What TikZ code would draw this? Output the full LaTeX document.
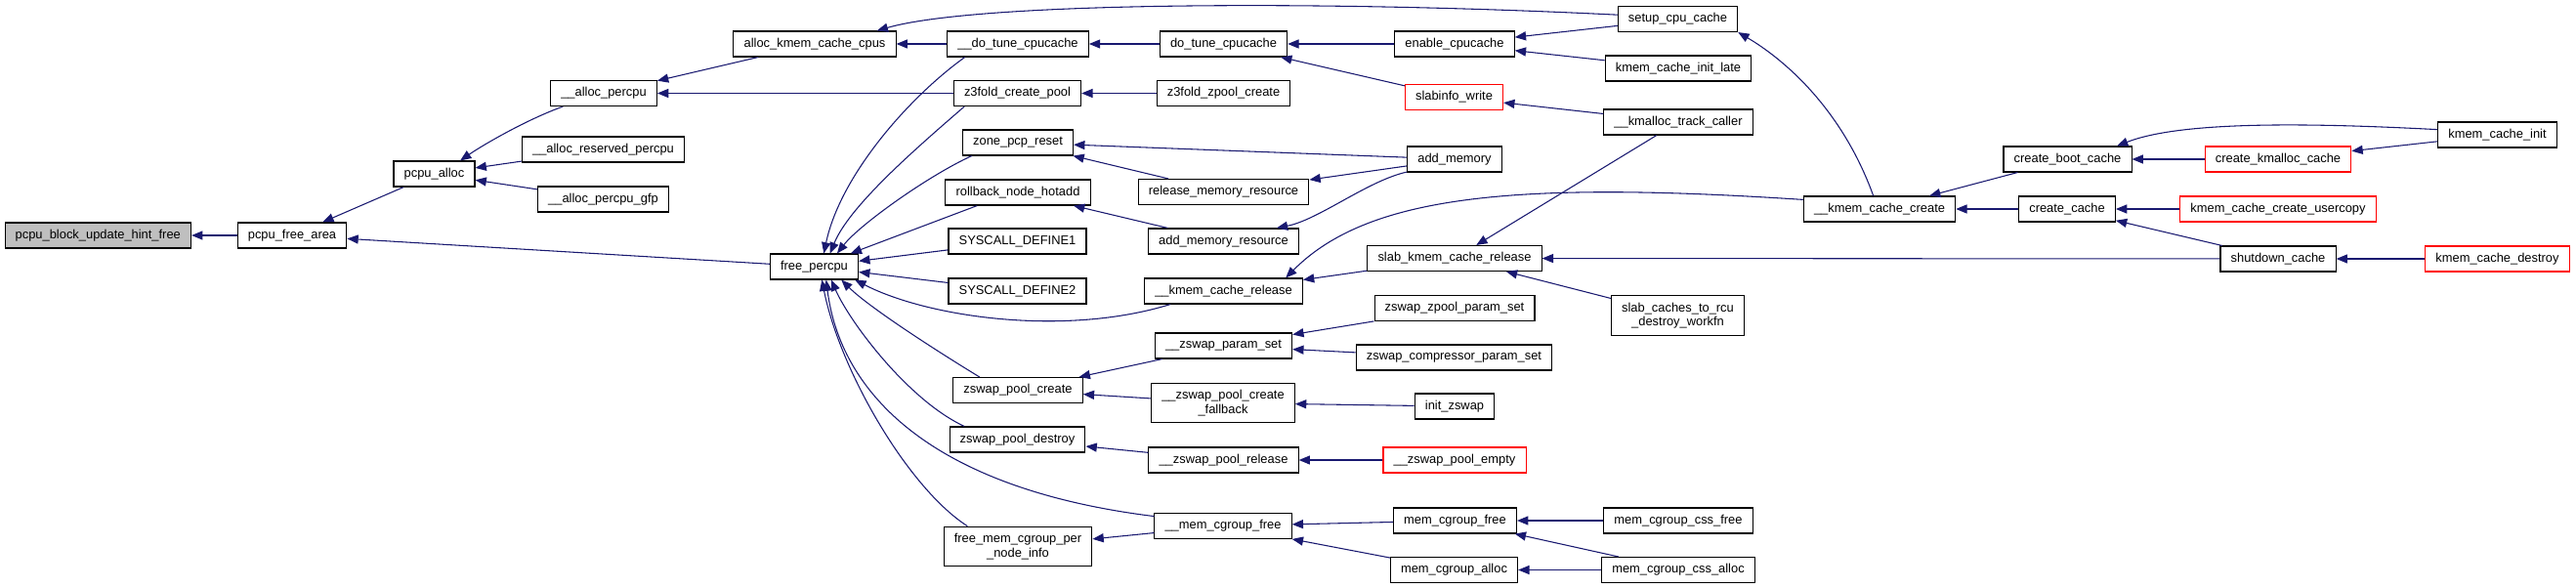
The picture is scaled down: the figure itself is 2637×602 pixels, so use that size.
\documentclass[tikz,border=0pt]{standalone}
\usepackage{fontspec}
\setmainfont{Liberation Sans}
\usepackage{tikz}
\usetikzlibrary{arrows.meta}
\definecolor{callblue}{HTML}{191970}
\definecolor{rootgray}{HTML}{BFBFBF}

\begin{document}
\begin{tikzpicture}[
  x=0.75pt, y=-0.75pt,
  fn/.style={draw=black, fill=white, line width=0.8pt, font=\fontsize{9.67}{10.75}\selectfont,
    inner xsep=8pt, inner ysep=0pt, minimum height=19.5pt, align=center},
  fntwo/.style={fn, minimum height=30.5pt},
  root/.style={fn, fill=rootgray},
  trunc/.style={fn, draw=red},
  call/.style={draw=callblue, line width=0.8pt, -{Triangle[length=8.5pt,width=6.8pt]}}
]
\useasboundingbox (0,0) rectangle (2637,602);

% --- column 0/1: the function and its direct caller ---
\node[root] (blk) at (100.3,241) {pcpu\_block\_update\_hint\_free};
\node[fn] (pfa) at (299,241) {pcpu\_free\_area};

% --- column 2/3 ---
\node[fn] (palloc) at (444.5,178) {pcpu\_alloc};
\node[fn] (apcpu) at (618,95.5) {\_\_alloc\_percpu};
\node[fn] (arsv) at (617.5,153) {\_\_alloc\_reserved\_percpu};
\node[fn] (agfp) at (617.5,204) {\_\_alloc\_percpu\_gfp};

% --- column 4 ---
\node[fn] (akcc) at (834,45) {alloc\_kmem\_cache\_cpus};
\node[fn] (fp) at (833.5,273) {free\_percpu};

% --- column 5 ---
\node[fn] (dtc) at (1042,45) {\_\_do\_tune\_cpucache};
\node[fn] (z3cp) at (1041.5,95.5) {z3fold\_create\_pool};
\node[fn] (zpr) at (1042,146) {zone\_pcp\_reset};
\node[fn] (rnh) at (1042,197) {rollback\_node\_hotadd};
\node[fn] (sd1) at (1041.5,247) {SYSCALL\_DEFINE1};
\node[fn] (sd2) at (1041.5,298) {SYSCALL\_DEFINE2};
\node[fn] (zpc) at (1042,399.5) {zswap\_pool\_create};
\node[fn] (zpd) at (1041.5,450) {zswap\_pool\_destroy};
\node[fntwo] (fmcp) at (1042,559.5) {free\_mem\_cgroup\_per\\\_node\_info};

% --- column 6 ---
\node[fn] (dotc) at (1252.5,45) {do\_tune\_cpucache};
\node[fn] (z3zc) at (1252.5,95.5) {z3fold\_zpool\_create};
\node[fn] (rmr) at (1252.5,196.5) {release\_memory\_resource};
\node[fn] (amr) at (1252.5,247) {add\_memory\_resource};
\node[fn] (kcrel) at (1252.5,298) {\_\_kmem\_cache\_release};
\node[fn] (zps) at (1252.5,354) {\_\_zswap\_param\_set};
\node[fntwo] (zpcf) at (1252,412.5) {\_\_zswap\_pool\_create\\\_fallback};
\node[fn] (zprel) at (1252.5,471) {\_\_zswap\_pool\_release};
\node[fn] (mcgf) at (1252,538.5) {\_\_mem\_cgroup\_free};

% --- column 7 ---
\node[fn] (ecc) at (1489,45) {enable\_cpucache};
\node[trunc] (siw) at (1488.5,99.5) {slabinfo\_write};
\node[fn] (addm) at (1489,163) {add\_memory};
\node[fn] (skcr) at (1489,264.5) {slab\_kmem\_cache\_release};
\node[fn] (zzps) at (1489,315.5) {zswap\_zpool\_param\_set};
\node[fn] (zcps) at (1488.5,366) {zswap\_compressor\_param\_set};
\node[fn] (izs) at (1489,416) {init\_zswap};
\node[trunc] (zpe) at (1489,471) {\_\_zswap\_pool\_empty};
\node[fn] (mcfree) at (1489.5,533) {mem\_cgroup\_free};
\node[fn] (mcalloc) at (1488.5,583.5) {mem\_cgroup\_alloc};

% --- column 8 ---
\node[fn] (scc) at (1717.5,19.5) {setup\_cpu\_cache};
\node[fn] (kcil) at (1718,70) {kmem\_cache\_init\_late};
\node[fn] (kmtc) at (1718,125) {\_\_kmalloc\_track\_caller};
\node[fntwo] (sctr) at (1717.5,323) {slab\_caches\_to\_rcu\\\_destroy\_workfn};
\node[fn] (mcssf) at (1718,533) {mem\_cgroup\_css\_free};
\node[fn] (mcssa) at (1718,583.5) {mem\_cgroup\_css\_alloc};

% --- columns 9 to 12 ---
\node[fn] (kccr) at (1924,214) {\_\_kmem\_cache\_create};
\node[fn] (cbc) at (2116.5,163) {create\_boot\_cache};
\node[fn] (ccache) at (2116,214) {create\_cache};
\node[trunc] (ckc) at (2332,163) {create\_kmalloc\_cache};
\node[trunc] (kccu) at (2332,214) {kmem\_cache\_create\_usercopy};
\node[fn] (sdc) at (2332,265) {shutdown\_cache};
\node[fn] (kci) at (2556.5,138) {kmem\_cache\_init};
\node[trunc] (kcd) at (2556.5,265) {kmem\_cache\_destroy};

% --- calls, caller to callee ---
\draw[call] (pfa) -- (blk);
\draw[call] (palloc) -- (pfa);
\draw[call] (fp) -- (pfa);
\draw[call] (apcpu.-162) .. controls (540,122) and (495,148) .. (palloc.27);
\draw[call] (arsv) -- (palloc);
\draw[call] (agfp) -- (palloc);
\draw[call] (akcc) -- (apcpu);
\draw[call] (z3cp) -- (apcpu);
\draw[call] (dtc) -- (akcc);
\draw[call] (scc.176) .. controls (1350,0) and (1000,2) .. (akcc.12);

% into free_percpu
\draw[call] (dtc.-166) .. controls (930,100) and (860,180) .. (fp.54);
\draw[call] (z3cp.-166) .. controls (940,150) and (870,210) .. (fp.40);
\draw[call] (zpr.-164) .. controls (950,180) and (880,230) .. (fp.30);
\draw[call] (rnh.-162) -- (fp.20);
\draw[call] (sd1) -- (fp);
\draw[call] (sd2) -- (fp);
\draw[call] (kcrel.-166) .. controls (1090,345) and (950,325) .. (fp.-18);
\draw[call] (zpc.161) .. controls (960,360) and (890,315) .. (fp.-26);
\draw[call] (zpd.166) .. controls (930,410) and (870,330) .. (fp.-38);
\draw[call] (mcgf.172) .. controls (950,500) and (860,400) .. (fp.-48);
\draw[call] (fmcp.158) .. controls (930,500) and (860,380) .. (fp.-60);

% slab side
\draw[call] (dotc) -- (dtc);
\draw[call] (ecc) -- (dotc);
\draw[call] (siw) -- (dotc);
\draw[call] (scc) -- (ecc);
\draw[call] (kcil) -- (ecc);
\draw[call] (z3zc) -- (z3cp);
\draw[call] (kmtc) -- (siw);
\draw[call] (kmtc) -- (skcr);
\draw[call] (kccr.115) .. controls (1885,110) and (1825,60) .. (scc.south east);
\draw[call] (skcr) -- (kcrel);
\draw[call] (kccr.173) .. controls (1550,185) and (1400,200) .. (kcrel.12);
\draw[call] (sdc) -- (skcr);
\draw[call] (sctr) -- (skcr);
\draw[call] (cbc) -- (kccr);
\draw[call] (ccache) -- (kccr);
\draw[call] (kci.175) .. controls (2350,125) and (2230,125) .. (cbc.15);
\draw[call] (ckc) -- (cbc);
\draw[call] (kci) -- (ckc);
\draw[call] (kccu) -- (ccache);
\draw[call] (sdc) -- (ccache);
\draw[call] (kcd) -- (sdc);

% memory hotplug
\draw[call] (addm) -- (zpr);
\draw[call] (rmr) -- (zpr);
\draw[call] (addm) -- (rmr);
\draw[call] (addm.-165) .. controls (1400,185) and (1350,225) .. (amr.14);
\draw[call] (amr) -- (rnh);

% zswap
\draw[call] (zzps) -- (zps);
\draw[call] (zcps) -- (zps);
\draw[call] (zps) -- (zpc);
\draw[call] (zpcf) -- (zpc);
\draw[call] (izs) -- (zpcf);
\draw[call] (zprel) -- (zpd);
\draw[call] (zpe) -- (zprel);

% memcg
\draw[call] (mcfree) -- (mcgf);
\draw[call] (mcalloc) -- (mcgf);
\draw[call] (mcgf) -- (fmcp);
\draw[call] (mcssf) -- (mcfree);
\draw[call] (mcssa) -- (mcfree);
\draw[call] (mcssa) -- (mcalloc);

\end{tikzpicture}
\end{document}
